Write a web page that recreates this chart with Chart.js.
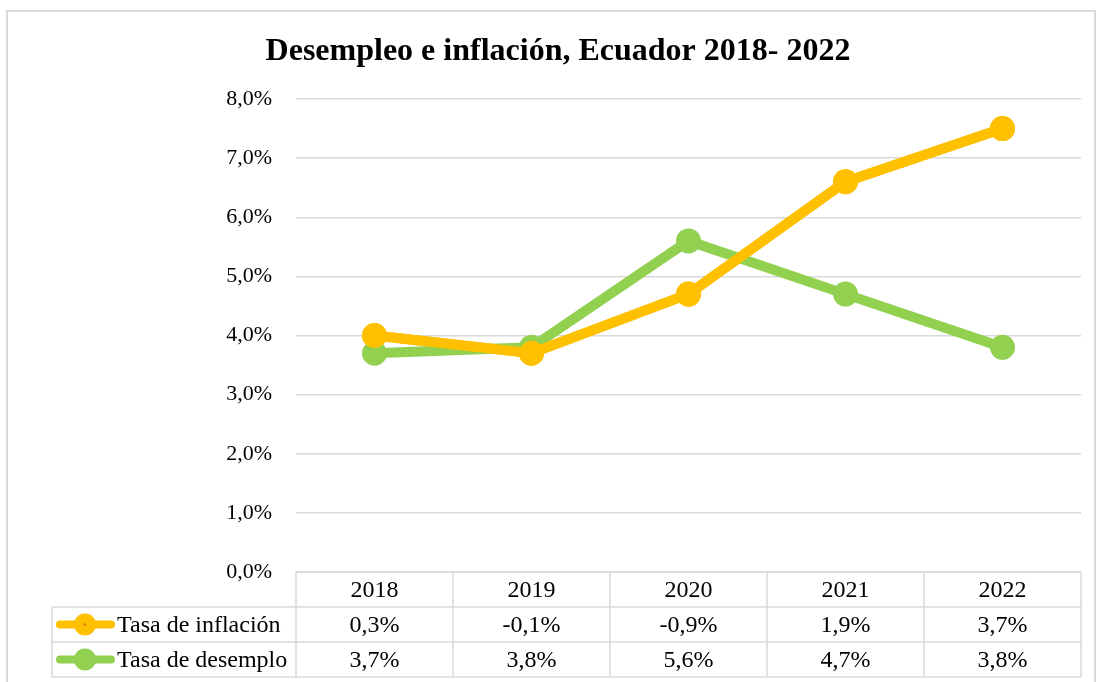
<!DOCTYPE html>
<html>
<head>
<meta charset="utf-8">
<script src="https://cdn.jsdelivr.net/npm/chart.js@4/dist/chart.umd.min.js"></script>
<style>
  html, body { margin: 0; padding: 0; background: #fff; }
  #wrap { width: 1097px; height: 682px; position: relative; }
</style>
</head>
<body>
<div id="wrap"><canvas id="chart" width="1097" height="682"></canvas></div>
<script>
const years = ["2018", "2019", "2020", "2021", "2022"];
const inflacion = [0.3, -0.1, -0.9, 1.9, 3.7];
const desempleo = [3.7, 3.8, 5.6, 4.7, 3.8];
const yTicks = [0, 1, 2, 3, 4, 5, 6, 7, 8];

const YELLOW = "#FFC000";
const GREEN = "#92D050";
const GRID = "#d9d9d9";
const FONT = "'Liberation Serif', 'Times New Roman', serif";

const pct = v => v.toFixed(1).replace(".", ",") + "%";

// inflation line is stacked on unemployment but painted over it
const redrawTop = {
  id: "redrawTop",
  afterDatasetsDraw(chart) {
    chart.ctx.save();
    chart.getDatasetMeta(1).controller.draw();
    chart.ctx.restore();
  }
};

// table under the plot + outer frame, Excel style
const tablePlugin = {
  id: "dataTable",
  afterDraw(chart) {
    const ctx = chart.ctx;
    const x = chart.scales.x;
    const area = chart.chartArea;
    const colW = (area.right - area.left) / years.length;
    const rowH = 35;
    const top = area.bottom;
    const legendLeft = 52;

    ctx.save();
    ctx.strokeStyle = GRID;
    ctx.lineWidth = 2;
    ctx.strokeRect(7, 11, 1088, 700);

    ctx.lineWidth = 1.5;
    ctx.beginPath();
    ctx.moveTo(area.left, top); ctx.lineTo(area.right, top);
    for (let r = 1; r <= 3; r++) {
      ctx.moveTo(legendLeft, top + r * rowH); ctx.lineTo(area.right, top + r * rowH);
    }
    ctx.moveTo(legendLeft, top + rowH); ctx.lineTo(legendLeft, top + 3 * rowH);
    for (let c = 0; c <= years.length; c++) {
      const cx = area.left + c * colW;
      ctx.moveTo(cx, top); ctx.lineTo(cx, top + 3 * rowH);
    }
    ctx.stroke();

    ctx.fillStyle = "#000";
    ctx.font = "24px " + FONT;
    ctx.textAlign = "center";
    ctx.textBaseline = "middle";
    const rows = [years, inflacion.map(pct), desempleo.map(pct)];
    rows.forEach((row, r) => {
      row.forEach((txt, i) => {
        ctx.fillText(txt, x.getPixelForTick(i), top + r * rowH + rowH / 2 + 1);
      });
    });

    const keys = [
      { label: "Tasa de inflación", color: YELLOW, dot: true },
      { label: "Tasa de desemplo", color: GREEN }
    ];
    keys.forEach((k, r) => {
      const cy = top + (r + 1) * rowH + rowH / 2;
      ctx.strokeStyle = k.color;
      ctx.lineWidth = 8;
      ctx.lineCap = "round";
      ctx.beginPath();
      ctx.moveTo(60, cy); ctx.lineTo(111, cy);
      ctx.stroke();
      ctx.fillStyle = k.color;
      ctx.beginPath();
      ctx.arc(85, cy, 11, 0, Math.PI * 2);
      ctx.fill();
      if (k.dot) {
        ctx.fillStyle = "#e46c0a";
        ctx.beginPath();
        ctx.arc(85, cy, 1.2, 0, Math.PI * 2);
        ctx.fill();
      }
      ctx.fillStyle = "#000";
      ctx.textAlign = "left";
      ctx.fillText(k.label, 117, cy + 1);
    });
    ctx.restore();
  }
};

new Chart(document.getElementById("chart"), {
  type: "line",
  data: {
    labels: years,
    datasets: [
      {
        label: "Tasa de desemplo",
        data: desempleo,
        borderColor: GREEN,
        backgroundColor: GREEN,
        borderWidth: 10,
        pointRadius: 12.5,
        pointHoverRadius: 12.5,
        pointBorderWidth: 0,
        order: 0
      },
      {
        label: "Tasa de inflación",
        data: inflacion,
        borderColor: YELLOW,
        backgroundColor: YELLOW,
        borderWidth: 10,
        pointRadius: 12.5,
        pointHoverRadius: 12.5,
        pointBorderWidth: 0,
        order: 1
      }
    ]
  },
  options: {
    responsive: false,
    animation: false,
    layout: { padding: { top: 28, left: 35, right: 16, bottom: 110 } },
    plugins: {
      legend: { display: false },
      tooltip: { enabled: false },
      title: {
        display: true,
        text: "Desempleo e inflación, Ecuador 2018- 2022",
        color: "#000",
        font: { family: FONT, size: 32, weight: "bold" },
        padding: { top: 5, bottom: 27.6 }
      }
    },
    scales: {
      x: {
        display: false,
        offset: true
      },
      y: {
        stacked: "single",
        min: 0,
        max: 8,
        afterBuildTicks: s => { s.ticks = yTicks.map(v => ({ value: v })); },
        afterFit: s => { s.width = 261; },
        border: { display: false },
        grid: { color: GRID, lineWidth: 1.5, drawTicks: false },
        ticks: {
          padding: 24,
          color: "#000",
          font: { family: FONT, size: 22 },
          callback: v => pct(v)
        }
      }
    }
  },
  plugins: [redrawTop, tablePlugin]
});
</script>
</body>
</html>
